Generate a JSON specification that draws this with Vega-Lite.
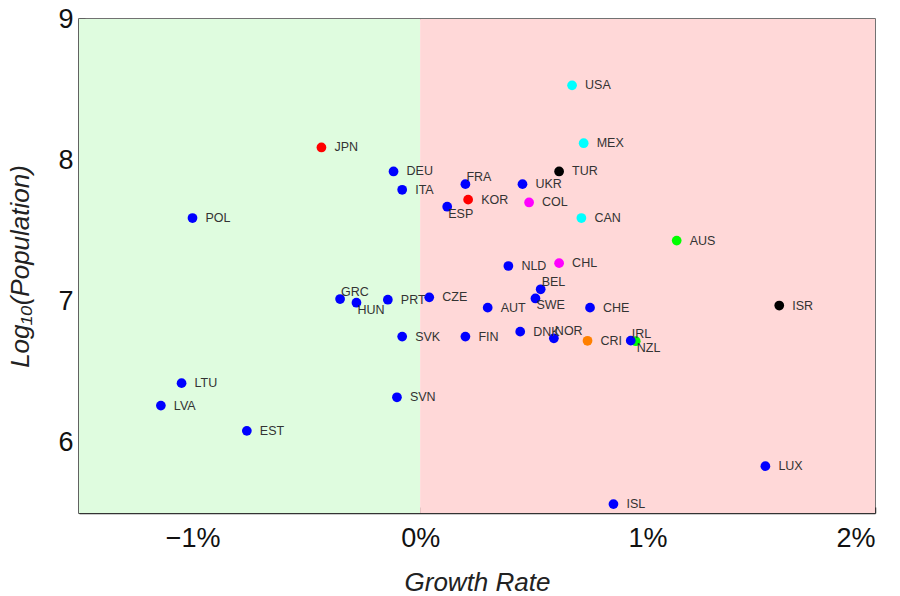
{
  "$schema": "https://vega.github.io/schema/vega-lite/v6.json",
  "width": 796,
  "height": 494,
  "autosize": {"type": "none"},
  "padding": {"left": 79, "top": 19, "right": 25, "bottom": 83},
  "background": "white",
  "config": {
    "view": {"stroke": "#444444", "strokeWidth": 1.5},
    "font": "Liberation Sans",
    "axis": {
      "grid": false,
      "zindex": 1,
      "domainColor": "#333333",
      "domainWidth": 1.5,
      "tickColor": "#333333",
      "tickWidth": 1.5,
      "tickSize": -6,
      "labelFont": "Liberation Sans",
      "labelFontSize": 27,
      "labelColor": "#111111",
      "titleFont": "Liberation Sans",
      "titleFontSize": 26,
      "titleFontStyle": "italic",
      "titleFontWeight": "normal",
      "titleColor": "#222222"
    }
  },
  "datasets": {
    "zones": [
      {"start": -0.015, "end": 0, "zone": "decline"},
      {"start": 0, "end": 0.02, "zone": "growth"}
    ],
    "countries": [
      {"country": "JPN", "growth": -0.00434, "logpop": 8.09, "group": "East Asia"},
      {"country": "KOR", "growth": 0.00211, "logpop": 7.72, "group": "East Asia"},
      {"country": "DEU", "growth": -0.00117, "logpop": 7.92, "group": "Europe"},
      {"country": "ITA", "growth": -0.00079, "logpop": 7.79, "group": "Europe"},
      {"country": "POL", "growth": -0.01001, "logpop": 7.59, "group": "Europe"},
      {"country": "ESP", "growth": 0.00119, "logpop": 7.67, "group": "Europe"},
      {"country": "FRA", "growth": 0.00199, "logpop": 7.83, "group": "Europe"},
      {"country": "UKR", "growth": 0.0045, "logpop": 7.83, "group": "Europe"},
      {"country": "TUR", "growth": 0.00611, "logpop": 7.92, "group": "Middle East"},
      {"country": "ISR", "growth": 0.01579, "logpop": 6.97, "group": "Middle East"},
      {"country": "USA", "growth": 0.00668, "logpop": 8.53, "group": "North America"},
      {"country": "MEX", "growth": 0.00719, "logpop": 8.12, "group": "North America"},
      {"country": "CAN", "growth": 0.00709, "logpop": 7.59, "group": "North America"},
      {"country": "COL", "growth": 0.00479, "logpop": 7.7, "group": "South America"},
      {"country": "CHL", "growth": 0.00611, "logpop": 7.27, "group": "South America"},
      {"country": "CRI", "growth": 0.00736, "logpop": 6.72, "group": "Central America"},
      {"country": "AUS", "growth": 0.01128, "logpop": 7.43, "group": "Oceania"},
      {"country": "NZL", "growth": 0.00948, "logpop": 6.717, "group": "Oceania"},
      {"country": "NLD", "growth": 0.00388, "logpop": 7.25, "group": "Europe"},
      {"country": "BEL", "growth": 0.0053, "logpop": 7.085, "group": "Europe"},
      {"country": "SWE", "growth": 0.00507, "logpop": 7.02, "group": "Europe"},
      {"country": "AUT", "growth": 0.00297, "logpop": 6.955, "group": "Europe"},
      {"country": "CHE", "growth": 0.00747, "logpop": 6.955, "group": "Europe"},
      {"country": "DNK", "growth": 0.0044, "logpop": 6.785, "group": "Europe"},
      {"country": "NOR", "growth": 0.00588, "logpop": 6.738, "group": "Europe"},
      {"country": "IRL", "growth": 0.00926, "logpop": 6.721, "group": "Europe"},
      {"country": "FIN", "growth": 0.00199, "logpop": 6.75, "group": "Europe"},
      {"country": "LUX", "growth": 0.01518, "logpop": 5.832, "group": "Europe"},
      {"country": "ISL", "growth": 0.0085, "logpop": 5.563, "group": "Europe"},
      {"country": "CZE", "growth": 0.0004, "logpop": 7.028, "group": "Europe"},
      {"country": "GRC", "growth": -0.00352, "logpop": 7.016, "group": "Europe"},
      {"country": "HUN", "growth": -0.0028, "logpop": 6.99, "group": "Europe"},
      {"country": "PRT", "growth": -0.00142, "logpop": 7.011, "group": "Europe"},
      {"country": "SVK", "growth": -0.00079, "logpop": 6.75, "group": "Europe"},
      {"country": "SVN", "growth": -0.00102, "logpop": 6.32, "group": "Europe"},
      {"country": "LTU", "growth": -0.01049, "logpop": 6.42, "group": "Europe"},
      {"country": "LVA", "growth": -0.0114, "logpop": 6.261, "group": "Europe"},
      {"country": "EST", "growth": -0.00762, "logpop": 6.082, "group": "Europe"}
    ]
  },
  "layer": [
    {
      "data": {"name": "zones"},
      "mark": {"type": "rect", "strokeWidth": 0},
      "encoding": {
        "x": {"field": "start", "type": "quantitative", "scale": {"domain": [-0.015, 0.02], "nice": false, "zero": false},
          "axis": {"values": [-0.01, 0, 0.01, 0.02], "format": ".0%", "title": "Growth Rate", "labelPadding": 18, "titlePadding": 18}},
        "x2": {"field": "end"},
        "color": {"field": "zone", "type": "nominal", "scale": {"domain": ["decline", "growth"], "range": ["#dffcdf", "#ffd8d8"]}, "legend": null}
      }
    },
    {
      "data": {"name": "countries"},
      "layer": [
        {
          "mark": {"type": "circle", "size": 95, "opacity": 1, "strokeWidth": 0},
          "encoding": {
            "fill": {"field": "group", "type": "nominal",
              "scale": {"domain": ["Europe", "East Asia", "North America", "South America", "Middle East", "Oceania", "Central America"],
                "range": ["#0000ff", "#ff0000", "#00ffff", "#ff00ff", "#000000", "#00ff00", "#ff8000"]},
              "legend": null}
          }
        },
        {
          "transform": [{"filter": {"not": {"field": "country", "oneOf": ["GRC", "FRA", "BEL", "IRL", "NOR", "HUN", "ESP", "SWE", "NZL"]}}}],
          "mark": {"type": "text", "align": "left", "baseline": "middle", "dx": 13, "dy": 0, "fontSize": 12.5, "font": "Liberation Sans", "fill": "#333333"},
          "encoding": {"text": {"field": "country"}}
        },
        {
          "transform": [{"filter": {"field": "country", "oneOf": ["GRC", "FRA", "BEL", "IRL", "NOR"]}}],
          "mark": {"type": "text", "align": "left", "baseline": "middle", "dx": 1, "dy": -7, "fontSize": 12.5, "font": "Liberation Sans", "fill": "#333333"},
          "encoding": {"text": {"field": "country"}}
        },
        {
          "transform": [{"filter": {"field": "country", "oneOf": ["HUN", "ESP", "SWE", "NZL"]}}],
          "mark": {"type": "text", "align": "left", "baseline": "middle", "dx": 1, "dy": 7, "fontSize": 12.5, "font": "Liberation Sans", "fill": "#333333"},
          "encoding": {"text": {"field": "country"}}
        }
      ],
      "encoding": {
        "x": {"field": "growth", "type": "quantitative"},
        "y": {"field": "logpop", "type": "quantitative", "scale": {"domain": [5.5, 9], "nice": false, "zero": false},
          "axis": {"values": [6, 7, 8, 9], "format": "d", "title": "Log₁₀(Population)", "labelPadding": 12, "titlePadding": 24}}
      }
    }
  ]
}
